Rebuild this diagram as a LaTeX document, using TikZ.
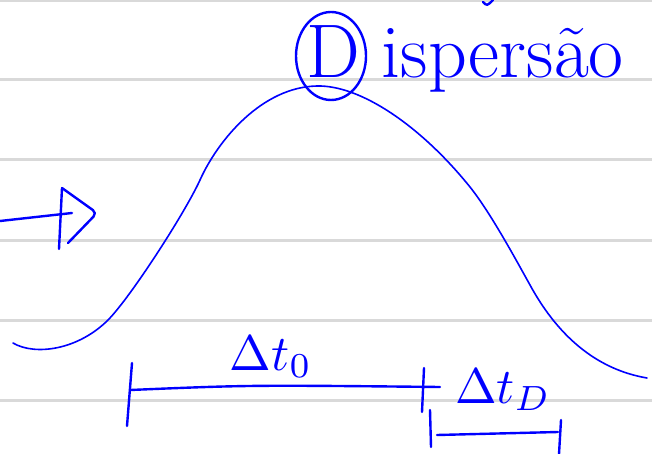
\documentclass[tikz,border=0pt]{standalone}
\usepackage{fontspec}

\begin{document}
\begin{tikzpicture}[x=1pt, y=-1pt,
    lijn/.style={gray!30, line width=3pt},
    pen/.style={blue, line width=2.4pt, line cap=round, line join=round},
    kromme/.style={blue, line width=1.6pt, line cap=round},
    tekst/.style={blue, scale=5}]
    \useasboundingbox (0,0) rectangle (652,454);

    % Lijnen van het papier
    \foreach \y in {1,80,160,240,320,400}
        \draw[lijn] (0,\y) -- (652,\y);

    % Puls (klokvorm)
    \draw[kromme] (13,343) .. controls (35,356) and (78,350) .. (108,320)
        .. controls (130,298) and (185,213) .. (200,180)
        .. controls (218,140) and (262,87) .. (317,86)
        .. controls (360,85) and (420,125) .. (470,187)
        .. controls (490,212) and (515,258) .. (530,285)
        .. controls (560,340) and (600,370) .. (647,378);

    % Pijl links
    \draw[pen] (0,221) -- (72,213);
    \draw[pen] (62,188) -- (59,249);
    \draw[pen, rounded corners=5pt] (62,188) -- (97,213) -- (68,243);

    % Titel met omcirkelde D
    \node[blue, anchor=base west, font=\fontsize{76}{84}\selectfont, inner sep=0pt] (titel) at (306,78) {D\kern22pt ispersão};
    \draw[pen] (titel.base west) ++(25,-22) ellipse [x radius=35, y radius=44];

    % Tijdsinterval zonder dispersie
    \draw[pen] (132,363) -- (127,426);
    \draw[pen] (130,390) .. controls (250,385) .. (440,387);
    \draw[pen] (424,368) -- (422,412);
    \node[tekst, anchor=base] (dt0) at (271,370) {$\Delta t_0$};

    % Verbreding door dispersie
    \draw[pen] (430,410) -- (431,447);
    \draw[pen] (437,435) -- (558,432);
    \draw[pen] (561,420) -- (559,454);
    \node[tekst, anchor=base] (dtD) at (503,403) {$\Delta t_D$};

    % Restje bovenaan
    \draw[pen] (483,2) .. controls (487,6) .. (493,0);
\end{tikzpicture}
\end{document}
